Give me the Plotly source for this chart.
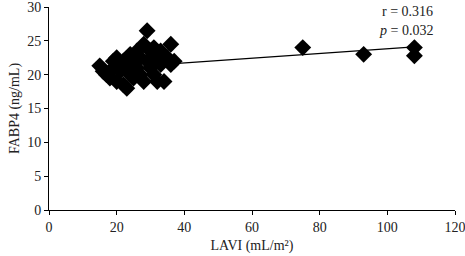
import plotly.graph_objects as go

lavi = [15, 16, 17, 18, 19, 19, 20, 20, 21, 21, 22, 22, 23, 23, 24, 24, 25, 25, 26, 26,
        27, 27, 28, 28, 29, 29, 30, 30, 31, 31, 32, 32, 33, 33, 34, 35, 36, 36, 37,
        75, 93, 108, 108]
fabp4 = [21.3, 20.5, 20.0, 19.5, 21.0, 22.0, 22.5, 19.0, 20.5, 21.5, 18.5, 22.0, 18.0, 21.0,
         20.0, 23.0, 22.0, 19.5, 21.0, 23.5, 22.5, 20.0, 24.5, 19.0, 26.5, 22.0, 21.0, 23.5,
         24.0, 20.0, 22.5, 19.0, 21.5, 23.5, 19.0, 22.5, 24.5, 21.5, 22.0,
         24.0, 23.0, 24.0, 22.8]
fit_x = [36, 108]
fit_y = [21.6, 24.1]
x_ticks = [0, 20, 40, 60, 80, 100, 120]
y_ticks = [0, 5, 10, 15, 20, 25, 30]

font = dict(family="Liberation Serif, Times New Roman, serif", size=14, color="#222")

fig = go.Figure()
fig.add_trace(go.Scatter(x=fit_x, y=fit_y, mode="lines",
                         line=dict(color="black", width=1.3), showlegend=False))
fig.add_trace(go.Scatter(x=lavi, y=fabp4, mode="markers",
                         marker=dict(symbol="diamond", size=13, color="black",
                                     line=dict(width=0)), showlegend=False))

fig.add_annotation(x=1, y=1.0, xref="paper", yref="paper", xanchor="right", yanchor="middle",
                   text="r = 0.316", showarrow=False, xshift=-20, yshift=-4, font=font)
fig.add_annotation(x=1, y=1.0, xref="paper", yref="paper", xanchor="right", yanchor="middle",
                   text="<i>p</i> = 0.032", showarrow=False, xshift=-20, yshift=-23, font=font)

fig.update_layout(
    width=465, height=256,
    margin=dict(l=49, r=10, t=7, b=46),
    paper_bgcolor="white", plot_bgcolor="white",
    font=font,
    xaxis=dict(range=[0, 120], tickvals=x_ticks, showgrid=False, zeroline=False,
               showline=True, linecolor="black", linewidth=1, ticks="outside",
               ticklen=4, tickcolor="black", automargin=False, ticklabeloverflow="allow",
               title=dict(text="LAVI (mL/m²)", standoff=6, font=font)),
    yaxis=dict(range=[0, 30], tickvals=y_ticks, showgrid=False, zeroline=False,
               showline=True, linecolor="black", linewidth=1, ticks="outside",
               ticklen=4, tickcolor="black", automargin=False, ticklabeloverflow="allow",
               title=dict(text="FABP4 (ng/mL)", standoff=4, font=font)),
)
fig.write_html("out.html", config={"displayModeBar": False},
               post_script="document.body.style.margin='0';")
